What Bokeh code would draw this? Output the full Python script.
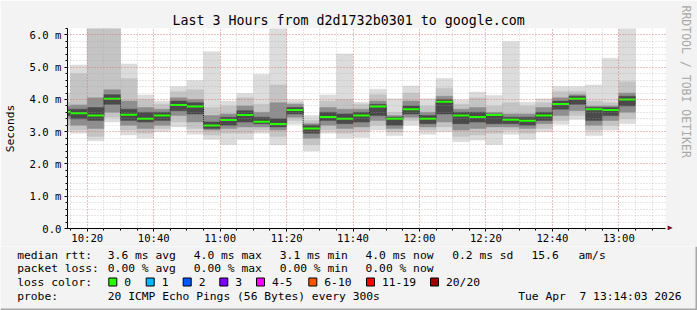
import math
from bokeh.plotting import figure
from bokeh.layouts import column
from bokeh.models import Range1d, FixedTicker, Label, Title
from bokeh.embed import file_html
from bokeh.resources import INLINE

# ---------------- data ----------------
title_text = "Last 3 Hours from d2d1732b0301 to google.com"
window_start = "10:14:03"
window_end = "13:14:03"
step_minutes = 5

bar_start = ["10:10", "10:15", "10:20", "10:25", "10:30", "10:35", "10:40", "10:45",
             "10:50", "10:55", "11:00", "11:05", "11:10", "11:15", "11:20", "11:25",
             "11:30", "11:35", "11:40", "11:45", "11:50", "11:55", "12:00", "12:05",
             "12:10", "12:15", "12:20", "12:25", "12:30", "12:35", "12:40", "12:45",
             "12:50", "12:55", "13:00"]
median_rtt = [3.62, 3.57, 3.50, 4.02, 3.53, 3.40, 3.50, 3.83, 3.78, 3.19, 3.36, 3.52,
              3.31, 3.24, 3.67, 3.10, 3.46, 3.40, 3.50, 3.78, 3.40, 3.70, 3.40, 3.93,
              3.50, 3.46, 3.52, 3.37, 3.34, 3.50, 3.86, 4.02, 3.70, 3.67, 4.00]
ping_min = [3.00, 2.95, 2.72, 3.30, 2.90, 2.80, 3.00, 3.15, 2.92, 2.76, 2.60, 2.76,
            2.95, 2.59, 3.23, 2.40, 2.95, 2.80, 2.82, 3.05, 2.88, 3.20, 2.92, 3.00,
            2.69, 2.74, 2.60, 2.92, 2.76, 3.00, 3.23, 3.38, 2.88, 3.05, 3.25]
ping_max = [4.20, 5.07, 6.30, 6.30, 5.10, 4.14, 3.95, 4.40, 4.59, 5.48, 3.95, 4.19,
            4.78, 6.30, 3.98, 3.50, 4.14, 5.41, 3.91, 4.32, 4.02, 4.42, 4.02, 4.65,
            3.98, 4.23, 4.12, 5.80, 3.91, 4.02, 4.40, 4.40, 4.45, 5.28, 6.30]
outer_lo = [3.20, 3.05, 2.85, 3.45, 3.05, 2.95, 3.10, 3.30, 3.10, 2.90, 2.95, 2.95,
            3.05, 2.85, 3.35, 2.60, 3.05, 2.95, 3.00, 3.20, 3.00, 3.35, 3.05, 3.15,
            2.85, 2.90, 2.95, 3.05, 2.95, 3.10, 3.35, 3.50, 3.05, 3.20, 3.40]
outer_hi = [3.90, 4.80, 6.30, 6.30, 4.65, 4.00, 3.85, 4.25, 4.30, 3.75, 3.80, 4.05,
            3.85, 4.45, 3.90, 3.35, 3.95, 4.00, 3.85, 4.15, 3.60, 4.20, 3.80, 4.35,
            3.85, 4.05, 3.80, 3.90, 3.80, 3.90, 4.25, 4.25, 3.95, 3.90, 4.55]
mid_lo = [3.40, 3.20, 3.10, 3.60, 3.20, 3.10, 3.20, 3.50, 3.30, 3.05, 3.10, 3.15,
          3.15, 3.05, 3.45, 2.80, 3.20, 3.10, 3.15, 3.35, 3.10, 3.45, 3.15, 3.30,
          3.05, 3.10, 3.15, 3.15, 3.10, 3.25, 3.50, 3.65, 3.20, 3.35, 3.60]
mid_hi = [3.80, 3.83, 4.05, 4.30, 3.95, 3.75, 3.70, 4.05, 4.00, 3.50, 3.55, 3.80,
          3.60, 3.90, 3.85, 3.25, 3.75, 3.70, 3.70, 3.95, 3.50, 3.95, 3.60, 4.10,
          3.70, 3.75, 3.60, 3.55, 3.55, 3.75, 4.05, 4.15, 3.80, 3.80, 4.20]
core_lo = [3.50, 3.40, 3.35, 3.85, 3.35, 3.30, 3.35, 3.65, 3.55, 3.10, 3.20, 3.30,
           3.25, 3.15, 3.55, 2.95, 3.35, 3.25, 3.30, 3.50, 3.20, 3.55, 3.25, 3.55,
           3.25, 3.30, 3.25, 3.25, 3.20, 3.35, 3.70, 3.85, 3.35, 3.50, 3.80]
core_hi = [3.70, 3.70, 3.75, 4.15, 3.70, 3.60, 3.60, 3.95, 3.90, 3.30, 3.45, 3.65,
           3.45, 3.40, 3.75, 3.20, 3.60, 3.55, 3.60, 3.85, 3.45, 3.80, 3.50, 4.00,
           3.60, 3.60, 3.55, 3.45, 3.45, 3.60, 3.95, 4.10, 3.75, 3.75, 4.10]

ytick_values = [0, 1, 2, 3, 4, 5, 6]
ytick_labels = ["0.0", "1.0 m", "2.0 m", "3.0 m", "4.0 m", "5.0 m", "6.0 m"]
xtick_labels = ["10:20", "10:40", "11:00", "11:20", "11:40", "12:00", "12:20", "12:40", "13:00"]

rtt_stats = ["3.6 ms avg", "4.0 ms max", "3.1 ms min", "4.0 ms now", "0.2 ms sd", "15.6", "am/s"]
loss_stats = ["0.00 % avg", "0.00 % max", "0.00 % min", "0.00 % now"]
loss_labels = ["0", "1", "2", "3", "4-5", "6-10", "11-19", "20/20"]
loss_colors = ["#26ff00", "#00b8ff", "#0059ff", "#7e00ff", "#ff00ff", "#ff5500", "#ff0000", "#a10000"]
probe_text = "20 ICMP Echo Pings (56 Bytes) every 300s"
stamp_text = "Tue Apr \u00a07 13:14:03 2026"
watermark = "RRDTOOL / TOBI OETIKER"


def hm(s):
    parts = [int(v) for v in s.split(":")]
    return parts[0] * 60 + parts[1] + (parts[2] / 60.0 if len(parts) > 2 else 0.0)


t0 = [hm(s) for s in bar_start]
t1 = [t + step_minutes for t in t0]
xmin, xmax = hm(window_start), hm(window_end)
ymax = 6.2

# ---------------- layout ----------------
W = 697
H_MAIN, H_LEG = 246, 64
FL, FR, FT, FB = 67, 667, 28, 228
MONO = "DejaVu Sans Mono"
BG = "#f3f3f3"

p = figure(width=W, height=H_MAIN, x_range=Range1d(xmin, xmax), y_range=Range1d(0, ymax),
           output_backend="svg", toolbar_location=None,
           min_border_left=FL, min_border_right=W - FR, min_border_top=FT,
           min_border_bottom=H_MAIN - FB,
           background_fill_color="white", border_fill_color=BG, outline_line_color=None)

# title
p.title.text = title_text
p.title.text_font = MONO
p.title.text_font_size = "13.3px"
p.title.text_font_style = "normal"
p.title.text_color = "black"
p.title.align = "left"
p.title.offset = 105
p.title.standoff = 2

# x-axis arrow head (a right-side title, turned clockwise so the triangle points right)
p.add_layout(Title(text="\u25b2", align="left", offset=197, standoff=0,
                   text_font=MONO, text_font_size="8px", text_font_style="normal",
                   text_color="#7f1010"), "right")
# watermark on the right edge, reading downwards
p.add_layout(Title(text=watermark, align="left", offset=-23, standoff=5,
                   text_font=MONO, text_font_size="11.5px", text_font_style="normal",
                   text_color="#a8a8a8"), "right")

# smoke bands
bands = [(ping_min, ping_max, "#dcdcdc"),
         (outer_lo, outer_hi, "#c4c4c4"),
         (mid_lo, mid_hi, "#8e8e8e"),
         (core_lo, core_hi, "#4a4a4a")]
for lo, hi, col in bands:
    p.quad(left=t0, right=t1, bottom=lo, top=hi, fill_color=col, line_color=col, line_width=0.5)

# median
p.step(x=t0 + [t1[-1]], y=median_rtt + [median_rtt[-1]], mode="after",
       line_color="#101010", line_width=1, line_dash="1 1")
p.segment(x0=t0, x1=t1, y0=median_rtt, y1=median_rtt, line_color="#26ff00", line_width=2)

# axes
p.yaxis.ticker = FixedTicker(ticks=ytick_values,
                             minor_ticks=[k * 0.2 for k in range(0, 32)])
p.yaxis.major_label_overrides = dict(zip(ytick_values, ytick_labels))
xtick_values = [hm(s) for s in xtick_labels]
p.xaxis.ticker = FixedTicker(ticks=xtick_values,
                             minor_ticks=[hm("10:15") + 5 * k for k in range(0, 36)])
p.xaxis.major_label_overrides = dict(zip(xtick_values, xtick_labels))

for ax in (p.xaxis[0], p.yaxis[0]):
    ax.axis_line_color = "black"
    ax.major_tick_out = 3
    ax.major_tick_in = 0
    ax.minor_tick_out = 2
    ax.minor_tick_in = 0
    ax.major_tick_line_color = "black"
    ax.minor_tick_line_color = "black"
    ax.major_label_text_font = MONO
    ax.major_label_text_font_size = "10.6px"
    ax.major_label_text_color = "black"
p.xaxis.major_label_standoff = 0
p.yaxis.major_label_standoff = 3
p.yaxis.axis_label = "Seconds"
p.yaxis.axis_label_text_font = MONO
p.yaxis.axis_label_text_font_size = "11.3px"
p.yaxis.axis_label_text_font_style = "normal"
p.yaxis.axis_label_text_color = "black"
p.yaxis.axis_label_standoff = 10

# grids (drawn over the smoke, as rrdtool does)
for g in (p.xgrid[0], p.ygrid[0]):
    g.grid_line_color = "#ff4040"
    g.grid_line_alpha = 0.45
    g.grid_line_dash = "1 2"
    g.minor_grid_line_color = "#a0a0a0"
    g.minor_grid_line_alpha = 0.5
    g.minor_grid_line_dash = "1 2"
    g.level = "overlay"

# ---------------- legend strip (page pixel coordinates) ----------------
q = figure(width=W, height=H_LEG, x_range=Range1d(0, W), y_range=Range1d(H_MAIN + H_LEG, H_MAIN),
           output_backend="svg", toolbar_location=None, x_axis_type=None, y_axis_type=None,
           min_border=0, background_fill_color=BG, border_fill_color=BG, outline_line_color=None)
q.xgrid.visible = False
q.ygrid.visible = False
for fig in (p, q):
    if "frame_align" in fig.properties():
        fig.frame_align = False


def put(text, px, py, size="11.3px", align="left", color="black"):
    q.add_layout(Label(x=px, y=py, text=text, text_font=MONO, text_font_size=size,
                       text_color=color, text_align=align, text_baseline="middle"))


row_y = [254.7, 268.3, 281.8, 295.7]
put("median rtt:", 16.7, row_y[0])
for txt, x in zip(rtt_stats, [107.3, 193.3, 279.3, 365, 451.7, 531, 578]):
    put(txt, x, row_y[0])
put("packet loss:", 16.7, row_y[1])
for txt, x in zip(loss_stats, [107.3, 193.3, 279.3, 365]):
    put(txt, x, row_y[1])
put("loss color:", 16.7, row_y[2])
box_x = [108.3, 145.7, 182.7, 219.3, 256, 308.3, 366, 430]
for lbl, bx in zip(loss_labels, box_x):
    put(lbl, bx + 15.5, row_y[2])
q.quad(left=box_x, right=[b + 8 for b in box_x], top=[277.5] * len(box_x), bottom=[285.5] * len(box_x),
       fill_color=loss_colors, line_color="black", line_width=1)
put("probe:", 16.7, row_y[3])
put(probe_text, 107.3, row_y[3])
put(stamp_text, 681, row_y[3], align="right")

# page edge shading
q.quad(left=[0, W - 2], right=[W, W], top=[H_MAIN + H_LEG - 2, H_MAIN], bottom=[H_MAIN + H_LEG, H_MAIN + H_LEG],
       fill_color="#a8a8a8", line_color=None)

layout = column(p, q, spacing=0)
open("out.html", "w").write(file_html(layout, INLINE))
